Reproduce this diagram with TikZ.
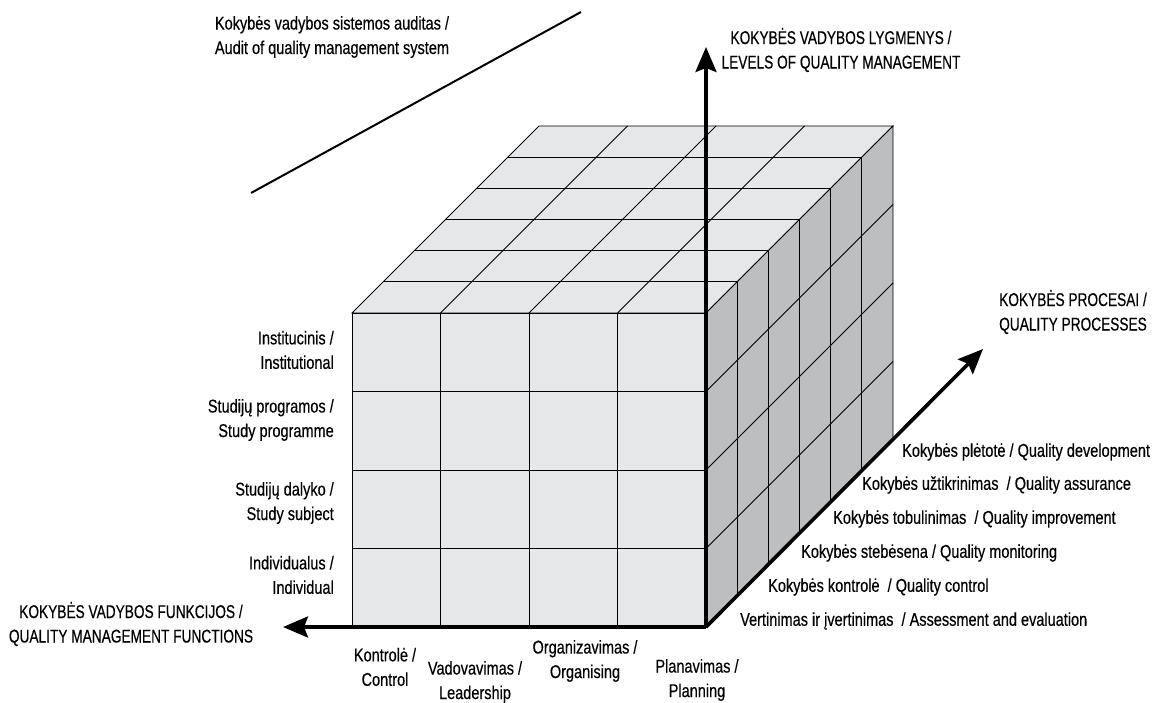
\documentclass[tikz,border=0pt]{standalone}
\usepackage{fontspec}
\setmainfont{Liberation Sans}[FakeStretch=0.785,FakeBold=0.4]
\newfontfamily\capsfont{Liberation Sans}[FakeStretch=0.74,FakeBold=0.4]
\usepackage{tikz}
\usetikzlibrary{arrows.meta}
\tikzset{>={Stealth[length=25pt,width=21pt,inset=4pt]}}
\definecolor{facelight}{HTML}{E6E7E8}
\definecolor{faceside}{HTML}{BCBEC0}
\tikzset{
  cubeline/.style={line width=0.9pt},
  axis/.style={line width=3.6pt,->},
  lbl/.style={font=\fontsize{18.5}{24.5}\selectfont,inner sep=0pt},
  caps/.style={font=\capsfont\fontsize{18.5}{24.5}\selectfont,inner sep=0pt,align=center},
  lvl/.style={lbl,anchor=east,align=right},
  proc/.style={lbl,anchor=west},
  func/.style={lbl,align=center}
}

\begin{document}
\begin{tikzpicture}[x=1pt,y=-1pt]
\useasboundingbox (0,0) rectangle (1157,703);

% front face
\filldraw[fill=facelight,cubeline] (352,313) rectangle (706,627);
\foreach \i in {1,2,3} {
  \draw[cubeline] (352+88.5*\i,313) -- (352+88.5*\i,627);
  \draw[cubeline] (352,313+78.5*\i) -- (706,313+78.5*\i);
}
% top face
\filldraw[fill=facelight,cubeline] (352,313)--(706,313)--(893,126)--(539,126)--cycle;
\foreach \i in {1,2,3} \draw[cubeline] (352+88.5*\i,313) -- ++(187,-187);
\foreach \k in {1,...,5} \draw[cubeline] (352+31.17*\k,313-31.17*\k) -- ++(354,0);
% right face
\filldraw[fill=faceside,cubeline] (706,313)--(706,627)--(893,440)--(893,126)--cycle;
\foreach \k in {1,...,5} \draw[cubeline] (706+31.17*\k,313-31.17*\k) -- ++(0,314);
\foreach \i in {1,2,3} \draw[cubeline] (706,313+78.5*\i) -- ++(187,-187);

% axes
\coordinate (O) at (706,627);
\coordinate (levtip) at (706,47);
\coordinate (functip) at (283,627);
\coordinate (proctip) at (983,349);
\draw[axis] (O) -- (levtip);
\draw[axis] (O) -- (functip);
\draw[axis] (O) -- (proctip);

% audit line
\coordinate (auda) at (251,193);
\coordinate (audb) at (581,12);
\draw[line width=2pt] (auda) -- (audb);

% axis titles
\node[func] (audit) at (332,37) {Kokybės vadybos sistemos auditas /\\Audit of quality management system};
\node[caps] (levels) at (841,50) {KOKYBĖS VADYBOS LYGMENYS /\\LEVELS OF QUALITY MANAGEMENT};
\node[caps] (functions) at (131,624) {KOKYBĖS VADYBOS FUNKCIJOS /\\QUALITY MANAGEMENT FUNCTIONS};
\node[caps,anchor=west,align=left] (processes) at (999,312) {KOKYBĖS PROCESAI /\\QUALITY PROCESSES};

% levels
\node[lvl] (inst) at (334,350) {Institucinis /\\Institutional};
\node[lvl] (prog) at (334,420) {Studijų programos /\\Study programme};
\node[lvl] (subj) at (334,503) {Studijų dalyko /\\Study subject};
\node[lvl] (indiv) at (334,575) {Individualus /\\Individual};

% functions
\node[func] (control) at (385,667) {Kontrolė /\\Control};
\node[func] (leader) at (475,682) {Vadovavimas /\\Leadership};
\node[func] (organ) at (585,661) {Organizavimas /\\Organising};
\node[func] (plan) at (697,680) {Planavimas /\\Planning};

% processes
\node[proc] (develop) at (902,452) {Kokybės plėtotė / Quality development};
\node[proc] (assur) at (862,485) {Kokybės užtikrinimas~ / Quality assurance};
\node[proc] (improve) at (833,519) {Kokybės tobulinimas~ / Quality improvement};
\node[proc] (monitor) at (801,553) {Kokybės stebėsena / Quality monitoring};
\node[proc] (qcontrol) at (768,587) {Kokybės kontrolė~ / Quality control};
\node[proc] (assess) at (740,621) {Vertinimas ir įvertinimas~ / Assessment and evaluation};
\end{tikzpicture}
\end{document}
